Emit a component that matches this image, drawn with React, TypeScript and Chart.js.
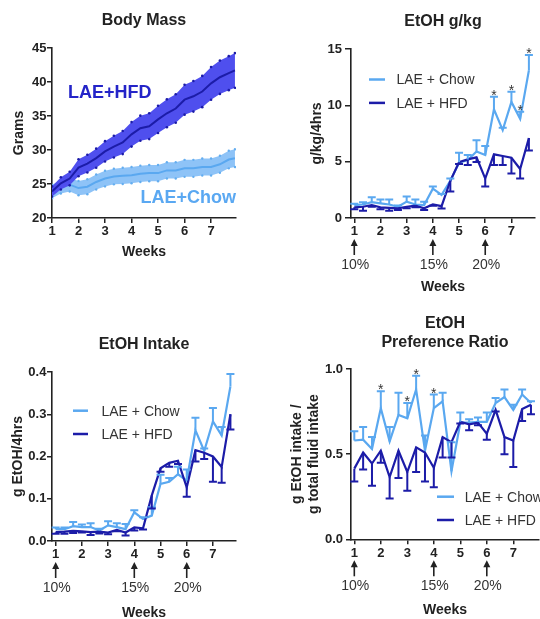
import { useEffect, useRef } from "react";
import { Chart, registerables } from "chart.js";

Chart.register(...registerables);

const FONT = "'Liberation Sans', Arial, Helvetica, sans-serif";
const INK = "#222222";
const TEXT = "#333333";
const CHOW_LINE = "#5aa8f0";
const HFD_LINE = "#1c1ca8";
const CHOW_FILL = "#8ec3f7";
const HFD_FILL = "#4f4fee";
const CHOW_DOT = "#64aef0";

// ---------------- data ----------------
const weekTicks = [1, 2, 3, 4, 5, 6, 7];
const massTicks = [20, 25, 30, 35, 40, 45];
const gkgTicks = [0, 5, 10, 15];
const intakeTicks = [0, 0.1, 0.2, 0.3, 0.4];
const prefTicks = [0, 0.5, 1.0];

const concWeeks = [1, 4, 6];
const concLabels = ["10%", "15%", "20%"];

const massWeeks = [1, 1.333, 1.667, 2, 2.333, 2.667, 3, 3.333, 3.667, 4, 4.333, 4.667, 5, 5.333, 5.667, 6, 6.333, 6.667, 7, 7.333, 7.667, 7.9];
const massHfd = [23.9, 25.1, 25.8, 27.4, 28.0, 28.8, 29.8, 30.5, 31.1, 32.3, 33.2, 33.5, 34.5, 35.4, 36.1, 37.4, 37.9, 38.6, 39.8, 40.7, 41.3, 41.7];
const massHfdSem = [0.75, 0.9, 1.0, 1.25, 1.3, 1.4, 1.5, 1.6, 1.7, 1.8, 1.85, 1.9, 2.0, 2.05, 2.1, 2.2, 2.25, 2.3, 2.4, 2.45, 2.5, 2.55];
const massChow = [23.9, 24.6, 24.9, 24.4, 24.6, 25.3, 25.8, 26.1, 26.2, 26.3, 26.5, 26.6, 26.6, 27.0, 27.0, 27.3, 27.3, 27.5, 27.5, 27.9, 28.6, 28.8];
const massChowSem = [1.0, 1.0, 1.0, 1.05, 1.1, 1.1, 1.15, 1.15, 1.2, 1.2, 1.2, 1.2, 1.2, 1.2, 1.2, 1.25, 1.25, 1.25, 1.25, 1.25, 1.3, 1.3];

const weeks = [1, 1.333, 1.667, 2, 2.333, 2.667, 3, 3.333, 3.667, 4, 4.333, 4.667, 5, 5.333, 5.667, 6, 6.333, 6.667, 7, 7.333, 7.667];

const gkgChow = [1.15, 1.2, 1.4, 1.3, 1.2, 1.0, 1.45, 1.2, 1.15, 2.6, 2.05, 3.3, 4.9, 5.15, 5.9, 5.6, 9.64, 7.8, 10.3, 8.8, 13.1];
const gkgChowErr = [0.12, 0.2, 0.45, 0.35, 0.45, 0.1, 0.45, 0.45, 0.3, 0.2, 0.08, 0.2, 0.9, 0.45, 1.0, 0.8, 1.13, 0.2, 0.9, 0.63, 1.36];
const gkgHfd = [0.95, 1.0, 1.15, 0.95, 0.9, 0.86, 1.0, 1.09, 0.86, 1.2, 1.05, 3.3, 4.95, 5.2, 5.38, 3.5, 5.65, 5.5, 5.35, 4.35, 7.1];
const gkgHfdErr = [0.18, 0.35, 0.15, 0.18, 0.25, 0.15, 0.14, 0.14, 0.15, 0.12, 0.2, 0.95, 0.15, 0.5, 0.4, 0.7, 0.95, 0.8, 1.4, 0.85, 1.1];
const gkgStarIdx = [16, 18, 19, 20];

const intakeChow = [0.028, 0.028, 0.035, 0.033, 0.033, 0.025, 0.037, 0.033, 0.028, 0.068, 0.052, 0.06, 0.135, 0.14, 0.158, 0.143, 0.262, 0.213, 0.283, 0.25, 0.366];
const intakeChowErr = [0.004, 0.004, 0.01, 0.006, 0.009, 0.004, 0.01, 0.009, 0.012, 0.005, 0.004, 0.02, 0.022, 0.009, 0.018, 0.026, 0.03, 0.006, 0.032, 0.02, 0.029];
const intakeHfd = [0.021, 0.022, 0.024, 0.023, 0.021, 0.022, 0.02, 0.026, 0.02, 0.032, 0.03, 0.108, 0.172, 0.185, 0.19, 0.127, 0.215, 0.209, 0.2, 0.175, 0.3];
const intakeHfdErr = [0.004, 0.005, 0.005, 0.003, 0.007, 0.004, 0.004, 0.003, 0.007, 0.007, 0.003, 0.031, 0.008, 0.009, 0.008, 0.022, 0.027, 0.015, 0.06, 0.037, 0.036];

const prefChow = [0.58, 0.585, 0.53, 0.77, 0.575, 0.73, 0.71, 0.88, 0.52, 0.77, 0.81, 0.4, 0.685, 0.685, 0.69, 0.69, 0.8, 0.835, 0.76, 0.85, 0.8];
const prefChowErr = [0.055, 0.075, 0.07, 0.1, 0.085, 0.13, 0.09, 0.08, 0.09, 0.08, 0.05, 0.17, 0.06, 0.02, 0.025, 0.055, 0.03, 0.045, 0.03, 0.03, 0.01];
const prefHfd = [0.415, 0.51, 0.445, 0.52, 0.365, 0.52, 0.395, 0.54, 0.51, 0.42, 0.6, 0.57, 0.69, 0.675, 0.685, 0.62, 0.76, 0.6, 0.58, 0.765, 0.79];
const prefHfdErr = [0.075, 0.1, 0.13, 0.07, 0.125, 0.16, 0.11, 0.145, 0.17, 0.115, 0.12, 0.09, 0.01, 0.035, 0.015, 0.035, 0.01, 0.1, 0.155, 0.07, 0.055];
const prefStarIdx = [3, 6, 7, 9];

// ---------------- helpers ----------------
const pts = (xs: number[], ys: number[]) => xs.map((x, i) => ({ x, y: ys[i] }));
const tickFont = { family: FONT, size: 13, weight: "bold" as const };
const titleFont = { family: FONT, size: 14, weight: "bold" as const };

function xAxis(min: number, max: number, height: number, weeksPad: number) {
  return {
    type: "linear",
    min,
    max,
    afterBuildTicks: (a: any) => {
      a.ticks = weekTicks.map((v) => ({ value: v }));
    },
    afterFit: (s: any) => {
      s.height = height;
    },
    grid: { display: true, drawOnChartArea: false, drawTicks: true, tickLength: 5, color: INK, lineWidth: 1.5 },
    border: { display: true, color: INK, width: 1.6 },
    ticks: { color: INK, font: tickFont, padding: 1, maxRotation: 0, autoSkip: false },
    title: { display: true, text: "Weeks", color: INK, font: titleFont, padding: { top: 0, bottom: weeksPad } },
  };
}

function yAxis(tickVals: number[], width: number, text: string | string[], titlePad: number, tickLen: number, tickPad: number, digits: number) {
  return {
    type: "linear",
    min: tickVals[0],
    max: tickVals[tickVals.length - 1],
    afterBuildTicks: (a: any) => {
      a.ticks = tickVals.map((v) => ({ value: v }));
    },
    afterFit: (s: any) => {
      s.width = width;
    },
    grid: { display: true, drawOnChartArea: false, drawTicks: true, tickLength: tickLen, color: INK, lineWidth: 1.5 },
    border: { display: true, color: INK, width: 1.6 },
    ticks: { color: INK, font: tickFont, padding: tickPad, callback: (v: any) => Number(v).toFixed(digits) },
    title: { display: true, text, color: INK, font: titleFont, padding: { top: titlePad, bottom: 0 } },
  };
}

function chartTitle(text: string | string[], top: number, bottom: number, lineHeight = 1.2) {
  return {
    display: true,
    text,
    fullSize: false,
    color: INK,
    font: { family: FONT, size: 16, weight: "bold" as const, lineHeight },
    padding: { top, bottom },
  };
}

const errorBarPlugin = {
  id: "errbars",
  afterDatasetsDraw(chart: any) {
    const ctx = chart.ctx;
    const xs = chart.scales.x;
    const ys = chart.scales.y;
    chart.data.datasets.forEach((ds: any) => {
      if (!ds.errors) return;
      ctx.save();
      ctx.strokeStyle = ds.borderColor;
      ctx.lineWidth = 2;
      ds.data.forEach((p: any, i: number) => {
        const e = ds.errors[i];
        if (!e) return;
        const px = xs.getPixelForValue(p.x);
        const py = ys.getPixelForValue(p.y);
        const ey = ys.getPixelForValue(p.y + ds.errDir * e);
        ctx.beginPath();
        ctx.moveTo(px, py);
        ctx.lineTo(px, ey);
        ctx.moveTo(px - 4, ey);
        ctx.lineTo(px + 4, ey);
        ctx.stroke();
      });
      ctx.restore();
    });
  },
};

type Note = { x: number; y: number; text: string; color: string; align: CanvasTextAlign };
type LegendCfg = { dx: number; dy: number; len: number; gap: number; row: number };
type NotesCfg = { arrows?: boolean; stars?: number[]; texts?: Note[]; legend?: LegendCfg };

function notesPlugin(cfg: NotesCfg) {
  return {
    id: "notes",
    afterDraw(chart: any) {
      const { ctx, chartArea } = chart;
      const xs = chart.scales.x;
      const ys = chart.scales.y;
      ctx.save();
      if (cfg.texts) {
        ctx.font = `bold 18px ${FONT}`;
        ctx.textBaseline = "middle";
        cfg.texts.forEach((t) => {
          ctx.fillStyle = t.color;
          ctx.textAlign = t.align;
          ctx.fillText(t.text, xs.getPixelForValue(t.x), ys.getPixelForValue(t.y));
        });
      }
      if (cfg.legend) {
        const L = cfg.legend;
        let row = 0;
        chart.data.datasets.forEach((ds: any) => {
          if (!ds.label) return;
          const y = chartArea.top + L.dy + row * L.row;
          const x0 = chartArea.left + L.dx;
          ctx.strokeStyle = ds.borderColor;
          ctx.lineWidth = 2.5;
          ctx.beginPath();
          ctx.moveTo(x0, y);
          ctx.lineTo(x0 + L.len, y);
          ctx.stroke();
          ctx.fillStyle = TEXT;
          ctx.font = `14px ${FONT}`;
          ctx.textAlign = "left";
          ctx.textBaseline = "middle";
          ctx.fillText(ds.label, x0 + L.len + L.gap, y + 1);
          row++;
        });
      }
      if (cfg.stars) {
        const ds: any = chart.data.datasets[0];
        ctx.fillStyle = TEXT;
        ctx.font = `14px ${FONT}`;
        ctx.textAlign = "center";
        ctx.textBaseline = "alphabetic";
        cfg.stars.forEach((i) => {
          const p = ds.data[i];
          const cap = ys.getPixelForValue(p.y + ds.errors[i]);
          ctx.fillText("*", xs.getPixelForValue(p.x), cap + 3);
        });
      }
      if (cfg.arrows) {
        const b = chartArea.bottom;
        ctx.strokeStyle = INK;
        ctx.fillStyle = INK;
        ctx.lineWidth = 1.6;
        concWeeks.forEach((w, i) => {
          const px = xs.getPixelForValue(w);
          const tip = b + 21;
          ctx.beginPath();
          ctx.moveTo(px, tip);
          ctx.lineTo(px - 3.5, tip + 7);
          ctx.lineTo(px + 3.5, tip + 7);
          ctx.closePath();
          ctx.fill();
          ctx.beginPath();
          ctx.moveTo(px, tip + 5);
          ctx.lineTo(px, b + 37);
          ctx.stroke();
          ctx.fillStyle = TEXT;
          ctx.font = `14px ${FONT}`;
          ctx.textAlign = "center";
          ctx.textBaseline = "middle";
          ctx.fillText(concLabels[i], px + 1, b + 47);
          ctx.fillStyle = INK;
        });
      }
      ctx.restore();
    },
  };
}

function baseOptions(padRight: number) {
  return {
    animation: false,
    responsive: false,
    events: [],
    layout: { padding: { left: 0, right: padRight, top: 0, bottom: 0 } },
  };
}

function lineSets(chowY: number[], chowE: number[], hfdY: number[], hfdE: number[]) {
  return [
    {
      label: "LAE + Chow",
      data: pts(weeks, chowY),
      borderColor: CHOW_LINE,
      backgroundColor: CHOW_LINE,
      borderWidth: 2.2,
      pointRadius: 0,
      tension: 0,
      fill: false,
      errors: chowE,
      errDir: 1,
      order: 1,
    },
    {
      label: "LAE + HFD",
      data: pts(weeks, hfdY),
      borderColor: HFD_LINE,
      backgroundColor: HFD_LINE,
      borderWidth: 2.2,
      pointRadius: 0,
      tension: 0,
      fill: false,
      errors: hfdE,
      errDir: -1,
      order: 0,
    },
  ];
}

// ---------------- panel configs ----------------
function massConfig(): any {
  const band = (mean: number[], sem: number[], sign: number) => mean.map((m, i) => m + sign * sem[i]);
  return {
    type: "line",
    data: {
      datasets: [
        { data: pts(massWeeks, band(massChow, massChowSem, 1)), borderWidth: 0, borderColor: "rgba(0,0,0,0)", pointRadius: 1.2, pointBorderWidth: 0, pointBackgroundColor: CHOW_DOT, fill: false, tension: 0, order: 3 },
        { data: pts(massWeeks, band(massChow, massChowSem, -1)), borderWidth: 0, borderColor: "rgba(0,0,0,0)", backgroundColor: CHOW_FILL, pointRadius: 1.2, pointBorderWidth: 0, pointBackgroundColor: CHOW_DOT, fill: "-1", tension: 0, order: 3 },
        { data: pts(massWeeks, massChow), borderColor: CHOW_LINE, borderWidth: 2, pointRadius: 0, fill: false, tension: 0, order: 2 },
        { data: pts(massWeeks, band(massHfd, massHfdSem, 1)), borderWidth: 0, borderColor: "rgba(0,0,0,0)", pointRadius: 1.3, pointBorderWidth: 0, pointBackgroundColor: HFD_LINE, fill: false, tension: 0, order: 1 },
        { data: pts(massWeeks, band(massHfd, massHfdSem, -1)), borderWidth: 0, borderColor: "rgba(0,0,0,0)", backgroundColor: HFD_FILL, pointRadius: 1.3, pointBorderWidth: 0, pointBackgroundColor: HFD_LINE, fill: "-1", tension: 0, order: 1 },
        { data: pts(massWeeks, massHfd), borderColor: HFD_LINE, borderWidth: 2, pointRadius: 0, fill: false, tension: 0, order: 0 },
      ],
    },
    options: {
      ...baseOptions(34),
      plugins: {
        legend: { display: false },
        tooltip: { enabled: false },
        title: chartTitle("Body Mass", 11, 17.8),
      },
      scales: {
        x: xAxis(1, 7.94, 52, 9.9),
        y: yAxis(massTicks, 52, "Grams", 10.9, 5, 0.5, 0),
      },
    },
    plugins: [
      notesPlugin({
        texts: [
          { x: 1.6, y: 38.4, text: "LAE+HFD", color: "#2424c8", align: "left" },
          { x: 7.94, y: 23.0, text: "LAE+Chow", color: "#5aa8f2", align: "right" },
        ],
      }),
    ],
  };
}

function gkgConfig(): any {
  return {
    type: "line",
    data: { datasets: lineSets(gkgChow, gkgChowErr, gkgHfd, gkgHfdErr) },
    options: {
      ...baseOptions(5),
      plugins: {
        legend: { display: false },
        tooltip: { enabled: false },
        title: chartTitle("EtOH g/kg", 12.1, 17.7),
      },
      scales: {
        x: xAxis(0.875, 7.9, 82, 4.3),
        y: yAxis(gkgTicks, 81, "g/kg/4hrs", 38.3, 6, 3, 0),
      },
    },
    plugins: [errorBarPlugin, notesPlugin({ arrows: true, stars: gkgStarIdx, legend: { dx: 18, dy: 30.5, len: 16, gap: 11.5, row: 23.4 } })],
  };
}

function intakeConfig(): any {
  return {
    type: "line",
    data: { datasets: lineSets(intakeChow, intakeChowErr, intakeHfd, intakeHfdErr) },
    options: {
      ...baseOptions(34),
      plugins: {
        legend: { display: false },
        tooltip: { enabled: false },
        title: chartTitle("EtOH Intake", 25.4, 17.4),
      },
      scales: {
        x: xAxis(0.86, 7.88, 89, 8.6),
        y: yAxis(intakeTicks, 52, "g EtOH/4hrs", 9.9, 5, 0.6, 1),
      },
    },
    plugins: [errorBarPlugin, notesPlugin({ arrows: true, legend: { dx: 21, dy: 38.7, len: 15, gap: 13.5, row: 23.3 } })],
  };
}

function prefConfig(): any {
  return {
    type: "line",
    data: { datasets: lineSets(prefChow, prefChowErr, prefHfd, prefHfdErr) },
    options: {
      ...baseOptions(1),
      plugins: {
        legend: { display: false },
        tooltip: { enabled: false },
        title: chartTitle(["EtOH", "Preference Ratio"], 4.5, 17.7, 1.15),
      },
      scales: {
        x: xAxis(0.875, 7.97, 90.7, 11.6),
        y: yAxis(prefTicks, 81, ["g EtOH intake /", "g total fluid intake"], 18.6, 5, 3, 1),
      },
    },
    plugins: [errorBarPlugin, notesPlugin({ arrows: true, stars: prefStarIdx, legend: { dx: 86, dy: 127.7, len: 17, gap: 10.7, row: 23.3 } })],
  };
}

// ---------------- components ----------------
type PanelProps = { left: number; top: number; width: number; height: number; make: () => any };

function Panel({ left, top, width, height, make }: PanelProps) {
  const ref = useRef<HTMLCanvasElement | null>(null);
  useEffect(() => {
    if (!ref.current) return;
    const chart = new Chart(ref.current, make());
    return () => chart.destroy();
  }, [make]);
  return (
    <canvas
      ref={ref}
      width={width}
      height={height}
      style={{ position: "absolute", left, top, width, height, display: "block" }}
    />
  );
}

export default function App() {
  return (
    <div
      style={{
        position: "absolute",
        left: 0,
        top: 0,
        width: 540,
        height: 619,
        overflow: "hidden",
        background: "#ffffff",
      }}
    >
      <Panel left={0} top={0} width={270} height={270} make={massConfig} />
      <Panel left={270} top={0} width={270} height={300} make={gkgConfig} />
      <Panel left={0} top={310} width={270} height={320} make={intakeConfig} />
      <Panel left={270} top={310} width={270} height={320} make={prefConfig} />
    </div>
  );
}
